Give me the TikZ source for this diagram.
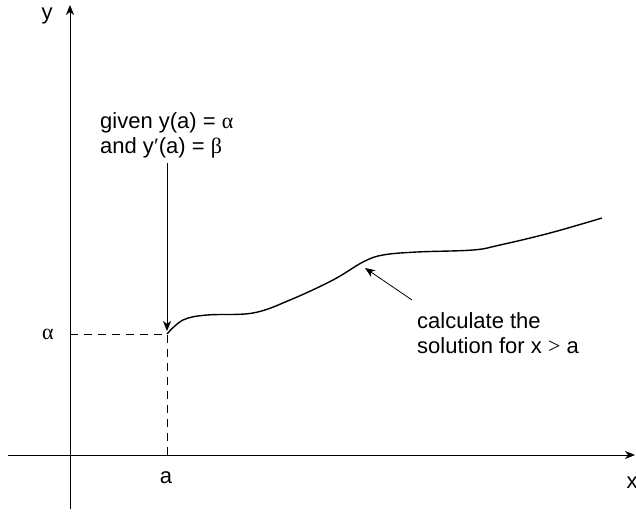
\documentclass[tikz,border=0pt]{standalone}
\usepackage{fontspec}
\setmainfont{Liberation Sans}
\newfontfamily\grk{Liberation Serif}
\usetikzlibrary{arrows.meta}
\begin{document}
\begin{tikzpicture}[x=1pt,y=-1pt,
  every node/.style={font=\fontsize{22}{25}\selectfont, inner sep=0pt},
  ax/.style={line width=0.8pt, -{Stealth[length=10pt,width=8pt,inset=3pt]}},
  guide/.style={line width=0.8pt, dash pattern=on 8pt off 6pt},
  curve/.style={line width=1.4pt},
  pointer/.style={line width=0.8pt, -{Stealth[length=10pt,width=8pt,inset=3pt]}}]
\useasboundingbox (0,0) rectangle (636,511);
% axes
\coordinate (ybot) at (70,509);
\coordinate (ytop) at (70,5);
\coordinate (xleft) at (8,455);
\coordinate (xright) at (635,455);
\draw[ax] (ybot) -- (ytop);
\draw[ax] (xleft) -- (xright);
\node (ylab) at (47,16) {y};
\node (xlab) at (632,483) {x};
% guides
\coordinate (P) at (167,334);
\coordinate (yA) at (70,334);
\coordinate (xA) at (167,455);
\draw[guide] (yA) -- (P) -- (xA);
\node (alab) at (48,334) {\grk α};
\node (aa) at (166,478) {a};
% solution curve
\draw[curve] plot[smooth, tension=0.6] coordinates {(167,334) (183,320) (207,315) (253,313) (290,300) (333,280) (363,262) (383,255) (417,252) (473,250) (500,245) (550,233) (602,218)};
% given
\node[anchor=base west, align=left] (given) at (100,153) {given y(a) = {\grk α}\\and y{\grk ′}(a) = {\grk β}};
\coordinate (gs) at (167,163);
\coordinate (ge) at (167,331);
\draw[pointer] (gs) -- (ge);
% calculate
\node[anchor=base west, align=left] (calc) at (417,353) {calculate the\\solution for x {\grk >} a};
\coordinate (cs) at (412,300);
\coordinate (ce) at (365,268);
\draw[pointer] (cs) -- (ce);
\end{tikzpicture}
\end{document}
